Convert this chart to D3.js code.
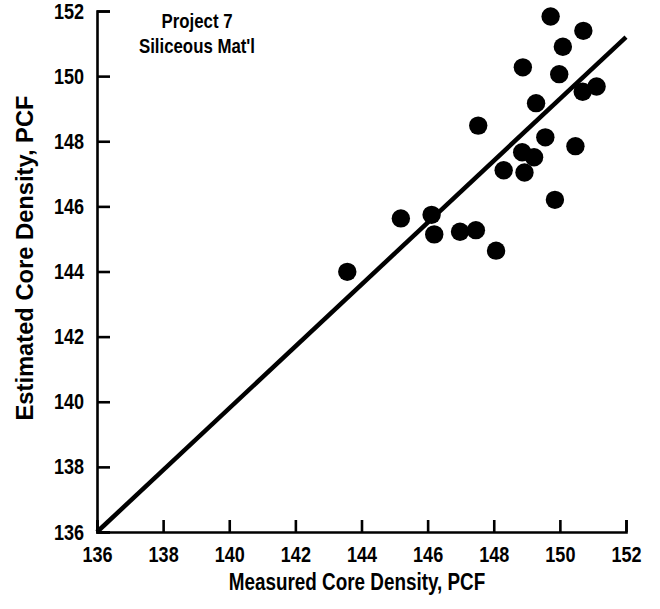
<!DOCTYPE html>
<html>
<head>
<meta charset="utf-8">
<script src="https://cdn.jsdelivr.net/npm/d3@7"></script>
<style>
  body { margin: 0; background: #fff; }
  svg { display: block; font-family: "Liberation Sans", Arial, sans-serif; font-weight: bold; }
  .axis path, .axis line { stroke: #000; stroke-width: 2.6; }
  .axis text { font-size: 22px; fill: #000; font-family: inherit; }
  .axis-label { font-size: 23px; fill: #000; }
  .note { font-size: 20.5px; fill: #000; }
</style>
</head>
<body>
<div id="chart"></div>
<script>
// Estimated vs measured core density scatter, Project 7 siliceous material.

const width = 660;
const height = 609;

// measured (x) and estimated (y) core density, PCF
const measured = [149.72, 150.71, 150.09, 148.88, 149.98, 151.11, 150.69, 149.28,
  147.53, 149.56, 150.47, 148.86, 149.22, 148.30, 148.93, 149.85,
  145.19, 146.12, 146.20, 146.98, 147.46, 148.07, 143.57];
const estimated = [151.83, 151.39, 150.90, 150.27, 150.06, 149.68, 149.52, 149.17,
  148.48, 148.12, 147.85, 147.66, 147.51, 147.11, 147.04, 146.20,
  145.63, 145.74, 145.14, 145.22, 145.27, 144.64, 143.99];

// fitted line end points
const fitX = [136, 152];
const fitY = [136, 151.2];

const xTicks = [136, 138, 140, 142, 144, 146, 148, 150, 152];
const yTicks = [136, 138, 140, 142, 144, 146, 148, 150, 152];
const noteLines = ["Project 7", "Siliceous Mat'l"];

const xScale = d3.scaleLinear().domain([136, 152]).range([97, 626]);
const yScale = d3.scaleLinear().domain([136, 152]).range([532, 11]);

const svg = d3.select("#chart")
  .append("svg")
  .attr("width", width)
  .attr("height", height);

svg.append("g")
  .attr("class", "axis")
  .attr("transform", `translate(0, ${yScale(136)})`)
  .call(d3.axisBottom(xScale).tickValues(xTicks).tickSize(-12).tickPadding(14));

svg.append("g")
  .attr("class", "axis")
  .attr("transform", `translate(${xScale(136)}, 0)`)
  .call(d3.axisLeft(yScale).tickValues(yTicks).tickSize(-13).tickPadding(13));

svg.selectAll(".axis .domain").attr("fill", "none");

// fitted line
svg.append("path")
  .datum(fitX.map((x, i) => [x, fitY[i]]))
  .attr("fill", "none")
  .attr("stroke", "#000")
  .attr("stroke-width", 4.5)
  .attr("d", d3.line().x(d => xScale(d[0])).y(d => yScale(d[1])));

svg.selectAll(".dot")
  .data(measured.map((x, i) => ({ x, y: estimated[i] })))
  .join("circle")
  .attr("class", "dot")
  .attr("cx", d => xScale(d.x))
  .attr("cy", d => yScale(d.y))
  .attr("r", 9.2)
  .attr("fill", "#000");

svg.selectAll(".note")
  .data(noteLines)
  .join("text")
  .attr("class", "note")
  .attr("x", 197)
  .attr("y", (d, i) => 28 + i * 25)
  .attr("text-anchor", "middle")
  .text(d => d);

svg.append("text")
  .attr("class", "axis-label")
  .attr("x", 357)
  .attr("y", 590)
  .attr("text-anchor", "middle")
  .text("Measured Core Density, PCF");

svg.append("text")
  .attr("class", "axis-label")
  .attr("transform", "rotate(-90)")
  .attr("x", -258)
  .attr("y", 33)
  .attr("text-anchor", "middle")
  .attr("textLength", 325)
  .attr("lengthAdjust", "spacingAndGlyphs")
  .text("Estimated Core Density, PCF");

// no narrow font installed, so squeeze the rest of the text to a condensed width
svg.selectAll("text").each(function() {
  if (this.hasAttribute("textLength")) return;
  const w = this.getComputedTextLength();
  this.setAttribute("textLength", (w * 0.82).toFixed(1));
  this.setAttribute("lengthAdjust", "spacingAndGlyphs");
});
</script>
</body>
</html>
